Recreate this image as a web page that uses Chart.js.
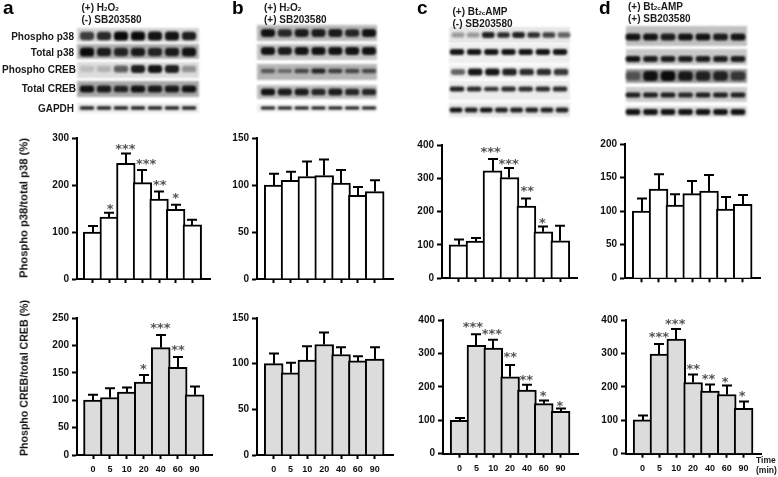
<!DOCTYPE html>
<html><head><meta charset="utf-8">
<script src="https://cdn.jsdelivr.net/npm/chart.js@4"></script>
<style>
html,body{margin:0;padding:0;background:#fff;width:778px;height:477px;overflow:hidden}
#stage{position:relative;width:778px;height:477px;font-family:"Liberation Sans",Arial,sans-serif;color:#1a1a1a}
canvas{position:absolute}
.t{position:absolute;font-weight:bold;white-space:nowrap;line-height:1}
.t small{font-size:.62em}
.letter{font-size:19px;color:#000}
.h{font-size:10px}
.lab{font-size:10px;text-align:right;transform:translateY(-50%)}
.yt{transform:translate(-50%,-50%) rotate(-90deg);color:#111;will-change:transform}
.time{font-size:8.5px}
</style></head><body><div id="stage"></div>
<script>
const categories=['0','5','10','20','40','60','90'];
const ticksP38A=[0,100,200,300], ticksP38B=[0,50,100,150], ticksP38C=[0,100,200,300,400], ticksP38D=[0,50,100,150,200];
const ticksCrebA=[0,50,100,150,200,250], ticksCrebB=[0,50,100,150], ticksCrebC=[0,100,200,300,400], ticksCrebD=[0,100,200,300,400];

const p38A=[100,132,246,205,170,148,115], p38AErr=[13,9,21,27,16,10,11];
const p38B=[100,105,109,110,102,89,93],   p38BErr=[12,9,16,17,14,9,12];
const p38C=[100,111,322,302,216,139,112], p38CErr=[16,9,36,29,23,16,45];
const p38D=[100,133,109,126,130,103,110], p38DErr=[19,22,16,19,24,18,14];
const crebA=[100,105,115,133,196,160,110], crebAErr=[10,17,8,13,23,19,15];
const crebB=[100,90,104,121,110,103,105],  crebBErr=[11,11,15,13,8,5,13];
const crebC=[100,324,316,230,190,150,127], crebCErr=[7,33,25,35,16,9,8];
const crebD=[101,298,343,213,187,177,136], crebDErr=[13,30,30,24,20,27,20];

// significance marks: [category position, value height, text]
const p38AStars=[[1.05,153,'*'],[1.97,281,'***'],[3.22,249,'***'],[4.04,204,'**'],[5,177,'*']];
const p38CStars=[[1.89,385,'***'],[2.95,350,'***'],[4.05,267,'**'],[4.94,172,'*']];
const crebAStars=[[2.97,161,'*'],[3.98,235,'***'],[5.02,196,'**']];
const crebCStars=[[0.79,385,'***'],[1.92,363,'***'],[3.01,296,'**'],[3.96,227,'**'],[4.97,179,'*'],[5.96,150,'*']];
const crebDStars=[[0.97,356,'***'],[1.94,393,'***'],[3.01,260,'**'],[3.92,229,'**'],[4.91,220,'*'],[5.92,178,'*']];

// band strengths per lane in the blots
const blotA=[[.75,.85,1,1,.95,.95,.9],[1,.9,.85,.9,.85,.9,.95],[.15,.2,.6,.9,.95,.9,.35],[.95,.9,.85,.95,.9,.9,.95],[.9,.9,.9,.9,.9,.9,.9]];
const blotB=[[.95,.85,.9,.9,.9,.85,.95],[.95,.9,.95,.95,.95,.95,.95],[.55,.45,.65,.85,.7,.65,.65],[.95,.9,.9,.85,.9,.85,.85],[.95,.95,.95,.95,.95,.95,.95]];
const blotC=[[.35,.35,.9,.85,.9,.85,.75,.6],[.95,.95,.95,.95,.95,.95,.95],[.6,.95,.95,.9,.85,.85,.8],[.9,.85,.8,.85,.85,.85,.85],[.95,.9,.95,.9,.9,.9,.9,.9]];
const blotD=[[.95,.95,.9,.95,.95,.9,.95],[.95,.9,.9,.9,.9,.9,.9],[.5,.95,1,.9,.85,.85,.7],[.9,.9,.9,.85,.9,.9,.9],[.95,.95,.95,.95,.95,.95,.95]];

const stage=document.getElementById('stage');
const FONT='"Liberation Sans",Arial,sans-serif';

/* ---------- layout ---------- */
const layouts=[
 {v:p38A,e:p38AErr,s:p38AStars,t:ticksP38A,fill:'#fff',ax:76.7,c0:92.3,c6:192,r:210,top:137,zero:279},
 {v:p38B,e:p38BErr,s:[],t:ticksP38B,fill:'#fff',ax:257,c0:273.7,c6:374.7,r:393,top:137,zero:279},
 {v:p38C,e:p38CErr,s:p38CStars,t:ticksP38C,fill:'#fff',ax:441.7,c0:458.3,c6:560,r:577,top:144.3,zero:278.3},
 {v:p38D,e:p38DErr,s:[],t:ticksP38D,fill:'#fff',ax:625,c0:641.7,c6:742.7,r:760.7,top:143,zero:278.3},
 {v:crebA,e:crebAErr,s:crebAStars,t:ticksCrebA,fill:'#dcdcdc',ax:76.7,c0:92.7,c6:194.3,r:212,top:317,zero:455,x:1},
 {v:crebB,e:crebBErr,s:[],t:ticksCrebB,fill:'#dcdcdc',ax:257,c0:273.7,c6:374.7,r:393,top:317,zero:455,x:1},
 {v:crebC,e:crebCErr,s:crebCStars,t:ticksCrebC,fill:'#dcdcdc',ax:442.7,c0:459.3,c6:560.3,r:578,top:319.3,zero:454,x:1},
 {v:crebD,e:crebDErr,s:crebDStars,t:ticksCrebD,fill:'#dcdcdc',ax:625.7,c0:642.3,c6:743.3,r:760.7,top:319.3,zero:454,x:1}
];

const errStars={
 id:'errStars',
 afterDatasetsDraw(chart,args,o){
  const {x,y}=chart.scales,ctx=chart.ctx;
  ctx.save();
  ctx.strokeStyle='#000';ctx.lineWidth=2;
  o.values.forEach((v,i)=>{
   const px=Math.round(x.getPixelForValue(i)),p0=y.getPixelForValue(v),p1=y.getPixelForValue(v+o.errors[i]);
   ctx.beginPath();ctx.moveTo(px,p0);ctx.lineTo(px,p1);
   ctx.moveTo(px-5,p1);ctx.lineTo(px+5,p1);ctx.stroke();
  });
  ctx.fillStyle='#555';ctx.font='bold 13px "DejaVu Sans"';ctx.textAlign='center';ctx.textBaseline='alphabetic';
  o.stars.forEach(([c,h,txt])=>ctx.fillText(txt,x.getPixelForValue(c),y.getPixelForValue(h)+6));
  ctx.restore();
 }
};

layouts.forEach(L=>{
 const YW=40,XH=26,PT=8,PR=3;
 const step=(L.c6-L.c0)/6, W=YW+(L.r-L.ax)+PR, H=PT+(L.zero-L.top)+XH;
 const c=document.createElement('canvas');
 c.width=Math.ceil(W);c.height=Math.ceil(H);
 c.style.left=(L.ax-YW)+'px';c.style.top=(L.top-PT)+'px';
 stage.appendChild(c);
 const font={family:FONT,size:10,weight:'bold'};
 new Chart(c,{
  type:'bar',
  data:{datasets:[{data:L.v.map((y,i)=>({x:i,y})),backgroundColor:L.fill,borderColor:'#000',borderWidth:2,barThickness:step+2}]},
  options:{
   responsive:false,animation:false,
   layout:{padding:{top:PT,right:c.width-W+PR,left:0,bottom:c.height-H}},
   plugins:{legend:{display:false},tooltip:{enabled:false},errStars:{values:L.v,errors:L.e,stars:L.s}},
   scales:{
    x:{type:'linear',offset:false,min:(L.ax-L.c0)/step,max:(L.r-L.c0)/step,
     afterBuildTicks:s=>{s.ticks=categories.map((_,i)=>({value:i}))},
     afterFit:s=>{s.height=XH},
     border:{display:true,color:'#000',width:2},
     grid:{offset:false,drawOnChartArea:false,drawTicks:true,tickLength:4,tickColor:'#000',tickWidth:2,color:'#000'},
     ticks:{autoSkip:false,maxRotation:0,minRotation:0,padding:5,color:'#111',font:{family:FONT,size:9,weight:'bold'},
      callback:v=>L.x?categories[v]:''}},
    y:{type:'linear',min:L.t[0],max:L.t[L.t.length-1],
     afterBuildTicks:s=>{s.ticks=L.t.map(value=>({value}))},
     afterFit:s=>{s.width=YW},
     border:{display:true,color:'#000',width:2},
     grid:{drawOnChartArea:false,drawTicks:true,tickLength:5,tickColor:'#000',tickWidth:2,color:'#000'},
     ticks:{padding:3,color:'#111',font,callback:v=>String(v)}}
   }
  },
  plugins:[errStars]
 });
});

/* ---------- blots ---------- */
const blotCanvas=document.createElement('canvas');
blotCanvas.width=778;blotCanvas.height=125;blotCanvas.style.left='0';blotCanvas.style.top='0';
stage.appendChild(blotCanvas);
const g=blotCanvas.getContext('2d');
function strip(x0,x1,y0,y1,bg,bandY,bandH,first,last,lanes){
 g.filter='blur(1px)';g.fillStyle=bg;g.fillRect(x0,y0,x1-x0,y1-y0);
 const st=(last-first)/(lanes.length-1);
 lanes.forEach((a,i)=>{
  const bw=st*.84,bh=bandH*(.7+.3*a);
  g.fillStyle='rgba(10,10,10,'+a+')';
  g.beginPath();g.roundRect(first+i*st-bw/2,bandY-bh/2,bw,bh,bh*.4);g.fill();
 });
 g.filter='none';
}
const A=blotA,B=blotB,C=blotC,D=blotD;
strip(77,199,28,42,'#d4d4d4',36,9,87,189,A[0]);
strip(77,199,44,59,'#b0b0b0',52,9,87,189,A[1]);
strip(77,199,62,78,'#dcdcdc',69,8,87,189,A[2]);
strip(77,199,81,97,'#a8a8a8',89,7,87,189,A[3]);
strip(77,199,103,113,'#ebebeb',108,3.5,87,189,A[4]);
strip(257,377,25,41,'#b8b8b8',33,8,268,369,B[0]);
strip(257,377,44,60,'#c4c4c4',51,8,268,369,B[1]);
strip(257,377,64,80,'#b5b5b5',71,5,268,369,B[2]);
strip(257,377,85,99,'#c0c0c0',92,7,268,369,B[3]);
strip(257,377,104,112,'#eeeeee',108,3,268,369,B[4]);
strip(449,570,27,43,'#e6e6e6',35,6,458,564,C[0]);
strip(449,570,44,63,'#eeeeee',52,6,457,560,C[1]);
strip(449,570,65,79,'#f0f0f0',72,7,458,561,C[2]);
strip(449,570,81,100,'#ececec',89,5,457,560,C[3]);
strip(449,570,103,117,'#e8e8e8',110,5,456,562,C[4]);
strip(626,747,26,46,'#c0c0c0',37,7,633,738,D[0]);
strip(626,747,49,65,'#c8c8c8',59,6,633,738,D[1]);
strip(626,747,69,83,'#999999',76,10,633,738,D[2]);
strip(626,747,87,102,'#cccccc',95,5,633,738,D[3]);
strip(626,747,106,117,'#dddddd',112,6,633,738,D[4]);

/* ---------- text ---------- */
function text(cls,html,left,top,right,size){
 const d=document.createElement('div');d.className='t '+cls;d.innerHTML=html;
 if(right!==undefined){d.style.right=(778-right)+'px'}else{d.style.left=left+'px'}
 if(size)d.style.fontSize=size+'px';
 d.style.top=top+'px';stage.appendChild(d);
}
[['a',3],['b',232],['c',417],['d',599]].forEach(([s,x])=>text('letter',s,x,-2));
const H2O2='H<small>2</small>O<small>2</small>',BT='Bt<small>2c</small>AMP';
text('h','(+) '+H2O2,81.5,3);text('h','(-) SB203580',81.5,15);
text('h','(+) '+H2O2,264,3);text('h','(+) SB203580',264,15);
text('h','(+) '+BT,452.5,7);text('h','(-) SB203580',452.5,19);
text('h','(+) '+BT,628,2);text('h','(+) SB203580',628,14);
[['Phospho p38',37,74],['Total p38',53,74],['Phospho CREB',70,76],['Total CREB',89,76],['GAPDH',109,74]]
 .forEach(([s,y,r])=>text('lab',s,0,y,r));
text('yt','Phospho p38/total p38 (%)',24,207.5,undefined,11.2);
text('yt','Phospho CREB/total CREB (%)',24,378,undefined,10.6);
text('time','Time',756,456);text('time','(min)',756,466);
</script></body></html>
